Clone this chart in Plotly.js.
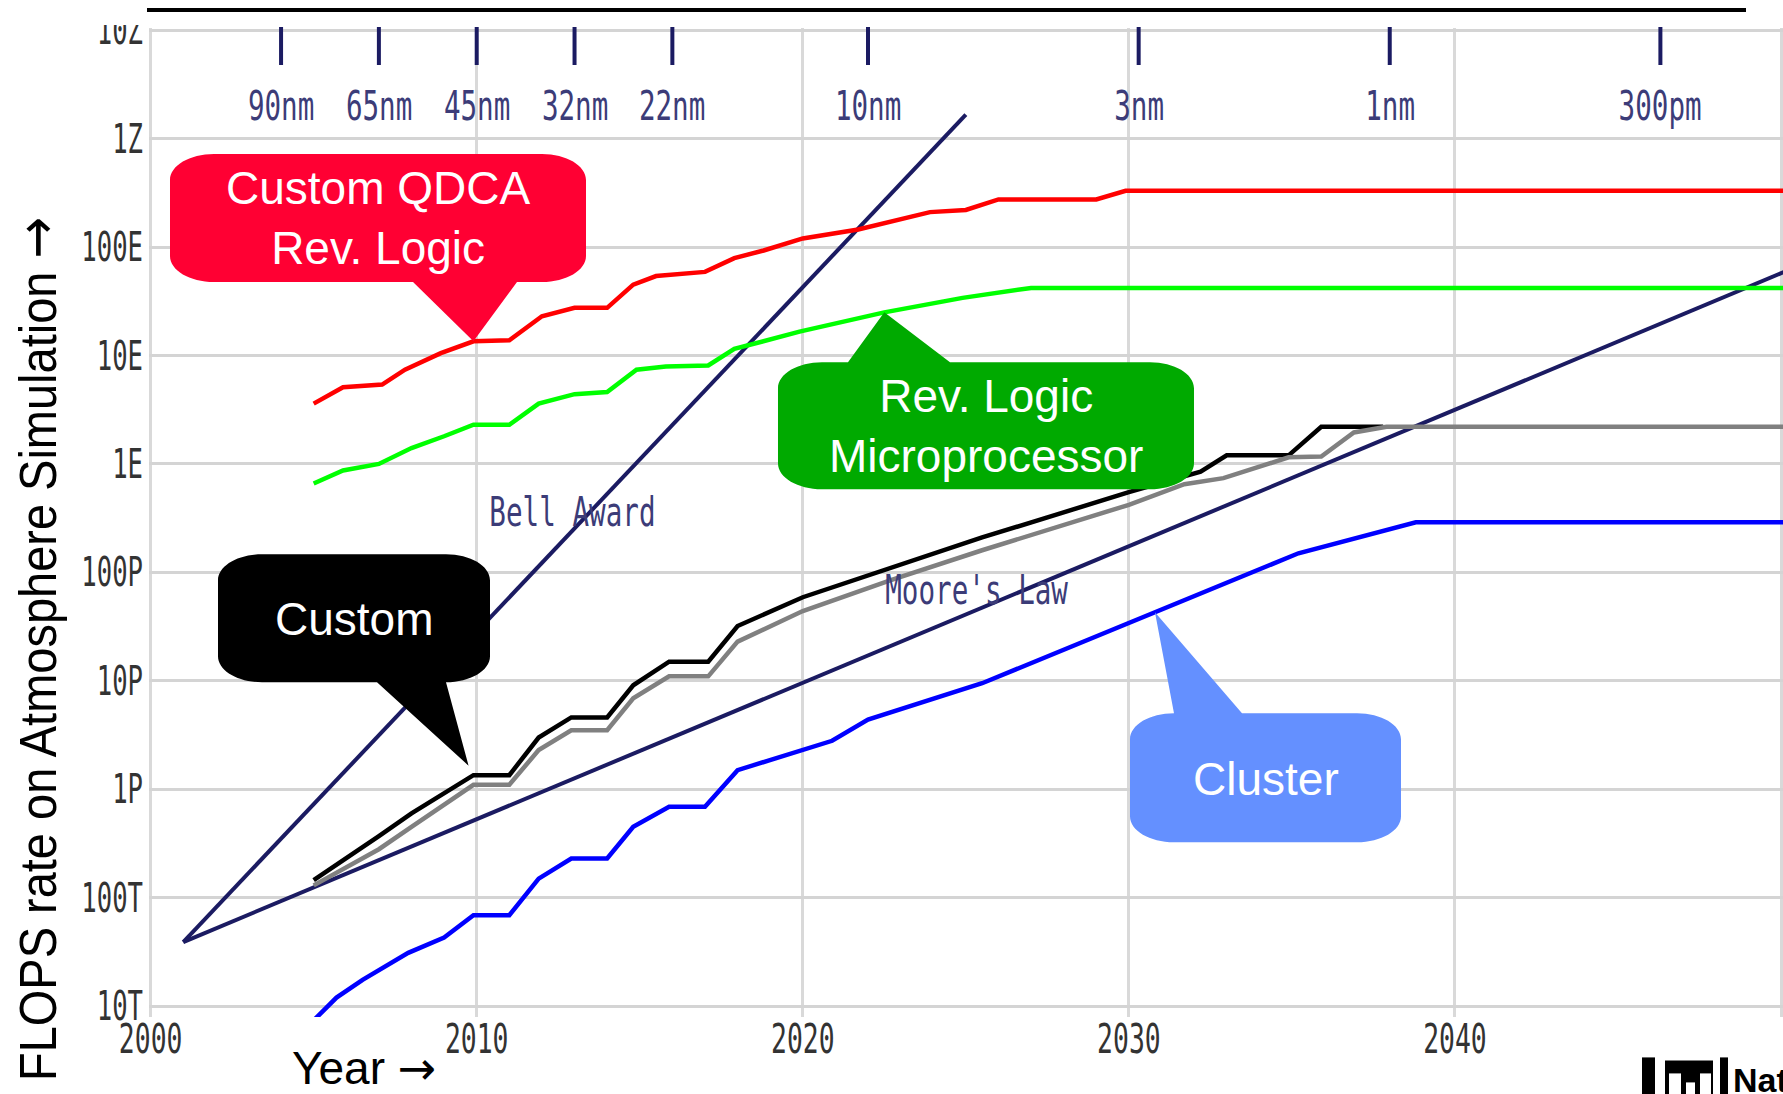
<!DOCTYPE html>
<html>
<head>
<meta charset="utf-8">
<script src="https://cdn.plot.ly/plotly-3.0.1.min.js"></script>
<style>html,body{margin:0;padding:0;background:#fff;}#chart{width:1783px;height:1094px;}</style>
</head>
<body>
<div id="chart"></div>
<script>
// ---------------- data ----------------
const qdcaYears  = [2005.0,2005.9,2007.1,2007.8,2008.9,2009.9,2011.0,2012.0,2013.0,2014.0,2014.8,2015.5,2017.0,2017.9,2018.8,2020.0,2021.7,2023.9,2025.0,2026.0,2029.0,2029.9,2050.1];
const qdcaFlops  = [3.6e18,5.1e18,5.4e18,7.4e18,1.05e19,1.35e19,1.38e19,2.3e19,2.75e19,2.75e19,4.5e19,5.4e19,5.9e19,7.9e19,9.3e19,1.2e20,1.45e20,2.1e20,2.2e20,2.75e20,2.75e20,3.3e20,3.3e20];

const revYears   = [2005.0,2005.9,2007.0,2008.0,2009.0,2009.9,2011.0,2011.9,2013.0,2014.0,2014.9,2015.8,2017.1,2017.9,2019.9,2022.5,2024.9,2027.0,2050.1];
const revFlops   = [6.6e17,8.7e17,1.0e18,1.4e18,1.8e18,2.3e18,2.3e18,3.6e18,4.4e18,4.6e18,7.4e18,7.9e18,8.1e18,1.15e19,1.66e19,2.5e19,3.4e19,4.2e19,4.2e19];

const customYears = [2005.0,2006.0,2007.0,2008.0,2009.0,2009.9,2011.0,2011.9,2012.9,2014.0,2014.8,2015.9,2017.1,2018.0,2020.0,2022.7,2025.5,2027.9,2030.0,2032.2,2033.0,2034.9,2035.9,2037.8];
const customFlops = [1.45e14,2.3e14,3.7e14,6.0e14,9.3e14,1.35e15,1.35e15,3.0e15,4.6e15,4.6e15,9.1e15,1.5e16,1.5e16,3.2e16,5.9e16,1.1e17,2.1e17,3.5e17,5.5e17,8.5e17,1.2e18,1.2e18,2.2e18,2.2e18];

const customGrayYears = [2005.0,2006.0,2007.0,2008.0,2009.0,2009.9,2011.0,2011.9,2012.9,2014.0,2014.8,2015.9,2017.1,2018.0,2020.0,2022.7,2025.5,2027.9,2030.0,2031.7,2032.9,2034.9,2035.9,2036.9,2037.9,2050.1];
const customGrayFlops = [1.3e14,1.9e14,2.8e14,4.5e14,7.2e14,1.1e15,1.1e15,2.3e15,3.5e15,3.5e15,6.9e15,1.1e16,1.1e16,2.3e16,4.4e16,8.5e16,1.6e17,2.7e17,4.2e17,6.5e17,7.4e17,1.15e18,1.17e18,1.95e18,2.2e18,2.2e18];

const clusterYears = [2005.0,2005.7,2006.5,2007.9,2009.0,2009.9,2011.0,2011.9,2012.9,2014.0,2014.8,2015.9,2017.0,2018.0,2020.9,2022.0,2025.5,2030.8,2035.2,2038.8,2050.1];
const clusterFlops = [7.4e12,1.2e13,1.75e13,3.1e13,4.3e13,6.9e13,6.9e13,1.5e14,2.3e14,2.3e14,4.5e14,6.9e14,6.9e14,1.5e15,2.8e15,4.4e15,9.5e15,4.3e16,1.5e17,2.9e17,2.9e17];

const bellYears  = [2001, 2025];
const bellFlops  = [3.9e13, 1.66e21];
const mooreYears = [2001, 2050.1];
const mooreFlops = [3.9e13, 5.9e19];

const nodeYears  = [2004, 2007, 2010, 2013, 2016, 2022, 2030.3, 2038, 2046.3];
const nodeLabels = ['90nm','65nm','45nm','32nm','22nm','10nm','3nm','1nm','300pm'];

const xTickVals  = [2000, 2010, 2020, 2030, 2040, 2050];
const xTickText  = ['2000','2010','2020','2030','2040','2050'];
const yTickVals  = [1e13,1e14,1e15,1e16,1e17,1e18,1e19,1e20,1e21,1e22];
const yTickText  = ['10T','100T','1P','10P','100P','1E','10E','100E','1Z','10Z'];

// ---------------- geometry helpers ----------------
const W = 1783, H = 1094;
const XR = [1999.95, 2050.06], YR = [12.9, 22.02];
const M = {l:149, r:0, t:28};
M.b = H - M.t - (YR[1]-YR[0])*108.4;
const PW = W - M.l - M.r, PH = H - M.t - M.b;
const PX = x => (x - M.l) / PW;          // pixel -> paper x
const PY = y => 1 - (y - M.t) / PH;      // pixel -> paper y
const dx = yr => M.l + (yr - XR[0]) / (XR[1]-XR[0]) * PW;           // data -> pixel
const dy = v => M.t + (YR[1] - Math.log10(v)) / (YR[1]-YR[0]) * PH;

function callout(x0,y0,x1,y1,side,bx0,bx1,tip,rx,ry){
  const k = 0.5523, tx = dx(tip[0]), ty = dy(tip[1]);
  const P = (x,y) => PX(x).toFixed(5)+','+PY(y).toFixed(5);
  let d = 'M'+P(x0+rx,y0);
  if(side==='top') d += ' L'+P(bx0,y0)+' L'+P(tx,ty)+' L'+P(bx1,y0);
  d += ' L'+P(x1-rx,y0);
  d += ' C'+P(x1-rx+k*rx,y0)+' '+P(x1,y0+ry-k*ry)+' '+P(x1,y0+ry);
  d += ' L'+P(x1,y1-ry);
  d += ' C'+P(x1,y1-ry+k*ry)+' '+P(x1-rx+k*rx,y1)+' '+P(x1-rx,y1);
  if(side==='bottom') d += ' L'+P(bx1,y1)+' L'+P(tx,ty)+' L'+P(bx0,y1);
  d += ' L'+P(x0+rx,y1);
  d += ' C'+P(x0+rx-k*rx,y1)+' '+P(x0,y1-ry+k*ry)+' '+P(x0,y1-ry);
  d += ' L'+P(x0,y0+ry);
  d += ' C'+P(x0,y0+ry-k*ry)+' '+P(x0+rx-k*rx,y0)+' '+P(x0+rx,y0)+' Z';
  return d;
}

// ---------------- traces ----------------
const NAVY = '#1b1b62';
const traces = [
  {x: bellYears,  y: bellFlops,  mode:'lines', line:{color:NAVY, width:4}},
  {x: mooreYears, y: mooreFlops, mode:'lines', line:{color:NAVY, width:4}},
  {x: clusterYears, y: clusterFlops, mode:'lines', line:{color:'#0000ff', width:4.5}},
  {x: customYears, y: customFlops, mode:'lines', line:{color:'#000000', width:4.5}},
  {x: customGrayYears, y: customGrayFlops, mode:'lines', line:{color:'#808080', width:4.5}},
  {x: revYears, y: revFlops, mode:'lines', line:{color:'#00ff00', width:4.5}},
  {x: qdcaYears, y: qdcaFlops, mode:'lines', line:{color:'#ff0000', width:4.5}}
];

// ---------------- annotations ----------------
const PIX = 'DejaVu Sans Mono, monospace';
const ARIAL = 'Arial, Liberation Sans, sans-serif';
const arrow = sz => '<span style="font-family:DejaVu Sans;font-size:'+sz+'px">\u2192</span>';
const ann = (o) => Object.assign({xref:'paper', yref:'paper', showarrow:false, xanchor:'center', yanchor:'middle'}, o);
const annotations = [];
nodeYears.forEach((yr,i) => annotations.push(ann({
  x: yr, xref:'x', y: PY(106), text: nodeLabels[i], font:{family:PIX, size:40, color:'#3c3c78'}
})));
annotations.push(ann({x:PX(572), y:PY(512), text:'Bell Award', font:{family:PIX, size:40, color:'#3c3c78'}}));
annotations.push(ann({x:PX(977), y:PY(590), text:"Moore's Law", font:{family:PIX, size:40, color:'#3c3c78'}}));
const PIX_ANN_COUNT = annotations.length;
annotations.push(ann({x:PX(37), y:PY(649), text:'FLOPS rate on Atmosphere Simulation '+arrow(50),
  textangle:-90, font:{family:ARIAL, size:47, color:'#000'}}));
const YTITLE_INDEX = annotations.length-1;
annotations.push(ann({x:PX(364), y:PY(1068), text:'Year '+arrow(46), font:{family:ARIAL, size:46, color:'#000'}}));
const boxText = (cx,cy,t) => ann({x:PX(cx), y:PY(cy), text:t, font:{family:ARIAL, size:46, color:'#ffffff'}});
annotations.push(boxText(378, 218, 'Custom QDCA<br>Rev. Logic'));
annotations.push(boxText(986, 426, 'Rev. Logic<br>Microprocessor'));
annotations.push(boxText(354, 619, 'Custom'));
annotations.push(boxText(1266, 779, 'Cluster'));
annotations.push(ann({x:PX(1731), y:PY(1080), xanchor:'left', text:'<b>Nat</b>', font:{family:ARIAL, size:34, color:'#000'}}));

// ---------------- shapes ----------------
const shapes = [];
// white cover over top of the clipped "10Z" label
shapes.push({type:'rect', xref:'paper', yref:'paper', x0:PX(40), x1:PX(146), y0:PY(0), y1:PY(25),
  fillcolor:'#ffffff', line:{width:0}, layer:'above'});
// black rule at the top
shapes.push({type:'line', xref:'paper', yref:'paper', x0:PX(147), x1:PX(1746), y0:PY(10), y1:PY(10),
  line:{color:'#000', width:4}, layer:'above'});
// process-node tick marks
nodeYears.forEach(yr => shapes.push({type:'line', xref:'x', yref:'paper', x0:yr, x1:yr, y0:PY(27), y1:PY(65),
  line:{color:NAVY, width:4}, layer:'above'}));
// callouts
const RX = 44, RY = 26;
shapes.push({type:'path', xref:'paper', yref:'paper', layer:'above', fillcolor:'#ff0033', line:{width:0},
  path: callout(170,154,586,282,'bottom',413,517,[2009.9,1.35e19],RX,RY)});
shapes.push({type:'path', xref:'paper', yref:'paper', layer:'above', fillcolor:'#00aa00', line:{width:0},
  path: callout(778,362,1194,489,'top',848,950,[2022.5,2.5e19],RX,RY)});
shapes.push({type:'path', xref:'paper', yref:'paper', layer:'above', fillcolor:'#000000', line:{width:0},
  path: callout(218,554,490,682,'bottom',377,446,[2009.75,1.65e15],RX,RY)});
shapes.push({type:'path', xref:'paper', yref:'paper', layer:'above', fillcolor:'#6490ff', line:{width:0},
  path: callout(1130,713,1401,842,'top',1174,1242,[2030.8,4.3e16],RX,RY)});
// logo fragment (bottom right)
const rectPx = (x0,y0,x1,y1,c) => ({type:'rect', xref:'paper', yref:'paper', x0:PX(x0), x1:PX(x1), y0:PY(y1), y1:PY(y0),
  fillcolor:c, line:{width:0}, layer:'above'});
shapes.push(rectPx(1642,1057,1655,1094,'#000'));
shapes.push(rectPx(1665,1060,1713,1094,'#000'));
shapes.push(rectPx(1669,1073,1681,1094,'#fff'));
shapes.push(rectPx(1700,1073,1711,1094,'#fff'));
shapes.push(rectPx(1686,1082,1695,1094,'#fff'));
shapes.push(rectPx(1720,1057,1728,1094,'#000'));

// ---------------- layout ----------------
const layout = {
  width: W, height: H,
  margin: {l:M.l, r:M.r, t:M.t, b:M.b, pad:0, autoexpand:false},
  paper_bgcolor:'#ffffff', plot_bgcolor:'#ffffff',
  showlegend:false,
  xaxis: {range: XR, tickvals: xTickVals, ticktext: xTickText, showgrid:true, gridcolor:'#d9d9d9', gridwidth:3,
    zeroline:false, showline:false, ticks:'', tickfont:{family:PIX, size:40, color:'#333'}},
  yaxis: {type:'log', range: YR, tickvals: yTickVals, ticktext: yTickText, showgrid:true, gridcolor:'#d4d4d4', gridwidth:3,
    zeroline:false, showline:false, ticks:'', ticklabelstandoff:5, tickfont:{family:PIX, size:40, color:'#333'}},
  annotations: annotations,
  shapes: shapes
};

function stretch(el, sx, mode, shiftY){
  const bb = el.getBBox();
  const ax = mode==='end' ? bb.x + bb.width : bb.x + bb.width/2;
  const cy = bb.y + bb.height/2;
  const t = el.getAttribute('transform') || '';
  el.setAttribute('transform', t + ' translate(' + ax + ',' + (cy + (shiftY||0)) + ') scale(' + sx + ',1) translate(' + (-ax) + ',' + (-cy) + ')');
}

Plotly.newPlot('chart', traces, layout, {staticPlot:true, displayModeBar:false}).then(gd => {
  gd.querySelectorAll('.ytick text').forEach(t => stretch(t, 0.64, 'end'));
  gd.querySelectorAll('.xtick text').forEach(t => stretch(t, 0.66, 'middle', -5));
  for(let i=0;i<PIX_ANN_COUNT;i++){
    const g = gd.querySelector('g.annotation[data-index="'+i+'"]');
    if(g) stretch(g, 0.69, 'middle');
  }
  const yt = gd.querySelector('g.annotation[data-index="'+YTITLE_INDEX+'"]');
  if(yt) stretch(yt, 1.12, 'middle');
});
</script>
</body>
</html>
